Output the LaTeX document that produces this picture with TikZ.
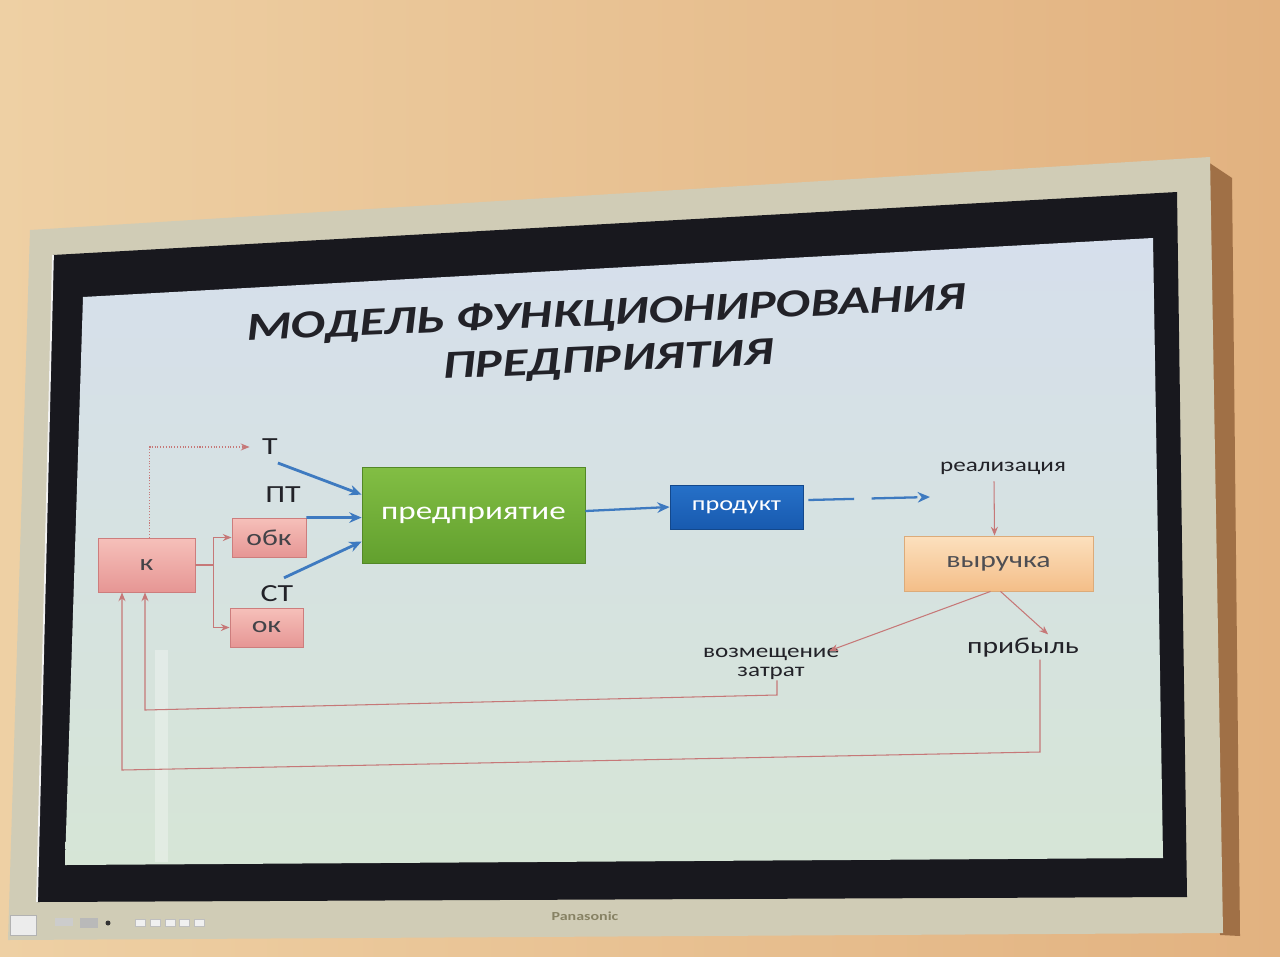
\documentclass[tikz,border=0pt]{standalone}
\usepackage{fontspec}
\setmainfont{Carlito}[FakeStretch=1.3]
\usetikzlibrary{arrows.meta,calc}
\definecolor{wallA}{RGB}{238,208,164}
\definecolor{wallB}{RGB}{226,178,128}
\definecolor{framec}{RGB}{208,204,182}
\definecolor{frameshadow}{RGB}{160,112,70}
\definecolor{bezel}{RGB}{24,24,30}
\definecolor{scrtop}{RGB}{214,223,236}
\definecolor{scrbot}{RGB}{214,229,214}
\definecolor{pinkA}{RGB}{246,192,186}
\definecolor{pinkB}{RGB}{230,150,148}
\definecolor{pinkedge}{RGB}{205,125,125}
\definecolor{pinkline}{RGB}{198,120,120}
\definecolor{greenA}{RGB}{130,190,68}
\definecolor{greenB}{RGB}{98,160,46}
\definecolor{blueA}{RGB}{38,112,200}
\definecolor{blueB}{RGB}{24,90,175}
\definecolor{bluearr}{RGB}{62,122,192}
\definecolor{orangeA}{RGB}{252,224,190}
\definecolor{orangeB}{RGB}{244,190,136}
\definecolor{txt}{RGB}{34,34,40}
\definecolor{logoc}{RGB}{135,130,100}
\tikzset{
  pbox/.style={draw=pinkedge, line width=0.5pt, top color=pinkA, bottom color=pinkB, text=txt!85, inner sep=0pt, font=\fontsize{13}{15}\selectfont},
  lbl/.style={text=txt, inner sep=1pt},
  titletext/.style={text=txt, inner sep=0pt, align=center, font=\fontsize{22.5}{26.5}\bfseries\itshape\selectfont},
  barrow/.style={draw=bluearr, line width=1.6pt, -{Stealth[length=7pt,width=6pt]}},
  parrow/.style={draw=pinkline, line width=0.6pt, -{Stealth[length=5pt,width=4pt]}},
  pline/.style={draw=pinkline, line width=0.6pt},
}
\begin{document}
\begin{tikzpicture}[x=0.02cm,y=-0.02cm]
\useasboundingbox (0,0) rectangle (1280,956);
% wall
\shade[left color=wallA, right color=wallB] (0,0) rectangle (1280,956);
% frame shadow and frame
\fill[frameshadow] (1205,160) -- (1232,178) -- (1240,936) -- (1220,935) -- cycle;
\fill[framec] (30,230) -- (1210,157) -- (1223,933) -- (8,940) -- cycle;
\fill[bezel] (53,255) -- (1177,192) -- (1187,897) -- (37,902) -- cycle;
\draw[white!90!gray, line width=1pt] (53,255) -- (37,902);
\shade[top color=scrtop, bottom color=scrbot] (83,297) -- (1153,238) -- (1163,858) -- (65,865) -- cycle;
% glare
\fill[white, opacity=0.3] (155,650) rectangle (168,862);
% logo and buttons
\node[text=logoc, font=\fontsize{7}{7}\bfseries\selectfont] (logo) at (585,916) {Panasonic};
\fill[white!85!gray, draw=gray!60] (10,915) rectangle (36,935);
\fill[gray!55] (80,918) rectangle (98,928);
\fill[gray!40] (55,918) rectangle (73,926);
\fill[black!80] (108,923) circle (2.5);
\foreach \bx in {140,155,170,184,199} \fill[white!88!gray, draw=gray!50] (\bx-5,919) rectangle (\bx+5,926);

% title
\node[rotate=2.5, titletext] (title) at (607,338) {МОДЕЛЬ ФУНКЦИОНИРОВАНИЯ\\ПРЕДПРИЯТИЯ};

% boxes
\node[pbox, minimum width=1.94cm, minimum height=1.08cm] (K) at (146.5,565) {к};
\node[pbox, minimum width=1.48cm, minimum height=0.78cm] (obk) at (269,537.5) {обк};
\node[pbox, minimum width=1.46cm, minimum height=0.78cm] (ok) at (266.5,627.5) {ок};
\node[draw=greenB!85!black, line width=0.5pt, top color=greenA, bottom color=greenB, text=white, minimum width=4.46cm, minimum height=1.92cm, font=\fontsize{14.5}{16}\selectfont] (ent) at (473.5,515) {предприятие};
\node[draw=blueB!80!black, line width=0.5pt, top color=blueA, bottom color=blueB, text=white, minimum width=2.66cm, minimum height=0.88cm, font=\fontsize{11.5}{13}\selectfont] (prod) at (736.5,507) {продукт};
\node[draw=orangeB!90!black, line width=0.5pt, top color=orangeA, bottom color=orangeB, text=txt!80, minimum width=3.78cm, minimum height=1.1cm, font=\fontsize{13}{15}\selectfont] (rev) at (998.5,563.5) {выручка};

% labels
\node[lbl, font=\fontsize{14}{16}\selectfont] (T) at (270,447) {Т};
\node[lbl, font=\fontsize{14}{16}\selectfont] (PT) at (283,495) {ПТ};
\node[lbl, font=\fontsize{14}{16}\selectfont] (CT) at (277,594) {СТ};
\node[lbl, font=\fontsize{11}{12}\selectfont] (real) at (1003,468) {реализация};
\node[lbl, align=center, inner sep=0pt, font=\fontsize{11}{11}\selectfont] (voz) at (771,664) {возмещение\\затрат};
\node[lbl, font=\fontsize{13}{15}\selectfont] (prib) at (1023,648) {прибыль};

% blue arrows
\draw[barrow] ($(T.south east)+(-2,6)$) -- ($(ent.north west)+(0,28)$);
\draw[barrow] (obk.north east) -- ($(ent.north west)+(0,51)$);
\draw[barrow] ($(CT.north)+(7,-6)$) -- ($(ent.north west)+(0,75)$);
\draw[barrow, line width=1.3pt] ($(ent.east)+(0,-4)$) -- (prod.west);
\coordinate (realin) at (930,497);
\draw[barrow, line width=1.3pt, dash pattern=on 26pt off 10pt] ($(prod.east)+(5,-7)$) -- (realin);

% pink connectors
\draw[parrow, densely dotted, shorten >=6pt] ($(K.north)+(3,0)$) |- (T.west);
\coordinate (split) at ($(K.east)+(18,0)$);
\draw[pline] (K.east) -- (split);
\draw[parrow] (split) |- (obk.west);
\draw[parrow] (split) |- (ok.west);
\draw[parrow] ($(real.south)+(-9,5)$) -- ($(rev.north)+(-4,0)$);
\draw[parrow] ($(rev.south)+(-8,0)$) -- ($(voz.north east)+(-10,3)$);
\draw[parrow] ($(rev.south)+(2,0)$) -- ($(prib.north)+(25,-2)$);
\coordinate (a1) at (777,695);
\coordinate (a2) at (145,710);
\draw[parrow] (voz.south -| a1) -- (a1) -- (a2) -- (a2 |- K.south);
\coordinate (b1) at (1040,752);
\coordinate (b2) at (122,770);
\draw[parrow] (prib.south -| b1) -- (b1) -- (b2) -- (b2 |- K.south);
\end{tikzpicture}
\end{document}
